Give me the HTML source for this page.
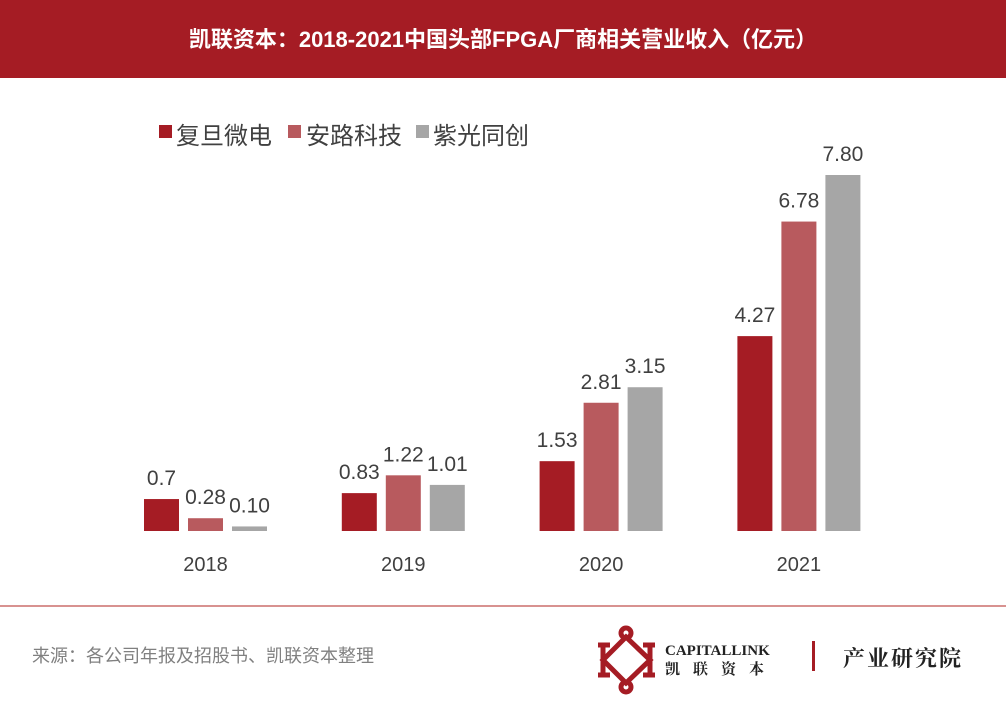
<!DOCTYPE html>
<html><head><meta charset="utf-8"><style>
body{margin:0;width:1006px;height:711px;background:#fff;overflow:hidden;font-family:"Liberation Sans","Noto Sans CJK SC",sans-serif;position:relative}
.hdr{position:absolute;left:0;top:0;width:1006px;height:78px;background:#a51c24;color:#fff;font-weight:bold;font-size:22px;text-align:center;line-height:80px}
</style></head><body>
<div class="hdr">凯联资本：2018-2021中国头部FPGA厂商相关营业收入（亿元）</div>
<svg id="c" width="1006" height="711" style="position:absolute;left:0;top:0">
<g font-size="24" fill="#404040">
<rect x="159" y="125" width="13" height="13" fill="#a51c24"/><text x="176" y="144">复旦微电</text>
<rect x="288" y="125" width="13" height="13" fill="#b85a5e"/><text x="306" y="144">安路科技</text>
<rect x="416" y="125" width="13" height="13" fill="#a6a6a6"/><text x="433" y="144">紫光同创</text>
</g>
<line x1="0" y1="606" x2="1006" y2="606" stroke="#c0504d" stroke-width="1.2"/>
<text x="32" y="662" font-size="18" fill="#808080">来源：各公司年报及招股书、凯联资本整理</text>
<g>
<g stroke="#a51c24" stroke-width="5" fill="none">
<line x1="603" y1="645" x2="603" y2="675"/><line x1="650" y1="645" x2="650" y2="675"/>
<line x1="598" y1="645" x2="610" y2="645"/><line x1="598" y1="675" x2="610" y2="675"/>
<line x1="643" y1="645" x2="655" y2="645"/><line x1="643" y1="675" x2="655" y2="675"/>
<path d="M603 660 L626 637 L650 660 L626 683 Z"/>
<circle cx="626" cy="633" r="5"/><circle cx="626" cy="687" r="5"/>
</g>
<text x="665" y="655" font-family="Liberation Serif,serif" font-weight="bold" font-size="15" fill="#222">CAPITALLINK</text>
<text x="665" y="674" font-family="Noto Serif CJK SC,serif" font-weight="bold" font-size="15" fill="#222" letter-spacing="13">凯联资本</text>
<rect x="812" y="641" width="3" height="30" fill="#a51c24"/>
<text x="843" y="666" font-family="Noto Serif CJK SC,serif" font-weight="bold" font-size="22" fill="#222" letter-spacing="2">产业研究院</text>
</g>
<g id="plot"></g>
</svg>
<script>
const years=["2018","2019","2020","2021"];
const fudan=[0.7,0.83,1.53,4.27];
const anlu=[0.28,1.22,2.81,6.78];
const ziguang=[0.10,1.01,3.15,7.80];
const labels=[["0.7","0.83","1.53","4.27"],["0.28","1.22","2.81","6.78"],["0.10","1.01","3.15","7.80"]];
const series=[fudan,anlu,ziguang];
const names=["fudan","anlu","ziguang"];
const colors=["#a51c24","#b85a5e","#a6a6a6"];
const base=531,scale=45.64;
const y=v=>base-v*scale;
const xc=i=>205.5+i*197.8;
const ns="http://www.w3.org/2000/svg";
const g=document.getElementById('plot');
years.forEach((yr,i)=>{
  const t=document.createElementNS(ns,'text');
  
  
  t.setAttribute('x',xc(i));t.setAttribute('y',571);t.setAttribute('text-anchor','middle');
  t.setAttribute('font-size','20');t.setAttribute('fill','#404040');t.textContent=yr;g.appendChild(t);
  series.forEach((s,k)=>{
    const bx=xc(i)-61.5+k*44;
    const r=document.createElementNS(ns,'rect');
    
    
    r.setAttribute('x',bx);r.setAttribute('y',y(s[i]));r.setAttribute('width',35);
    r.setAttribute('height',s[i]*scale);r.setAttribute('fill',colors[k]);g.appendChild(r);
    const l=document.createElementNS(ns,'text');
    
    
    l.setAttribute('x',bx+17.5);l.setAttribute('y',y(s[i])-14);l.setAttribute('text-anchor','middle');
    l.setAttribute('font-size','21');l.setAttribute('fill','#404040');l.textContent=labels[k][i];g.appendChild(l);
  });
});
</script>
</body></html>
